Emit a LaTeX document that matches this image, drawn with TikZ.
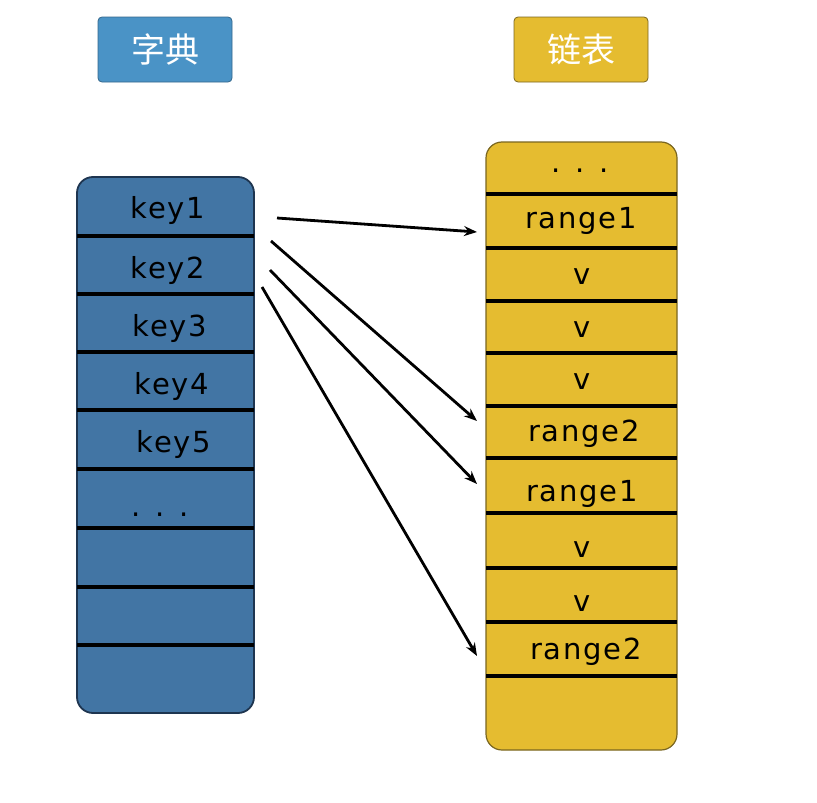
\documentclass[tikz,border=0pt]{standalone}
\usepackage{fontspec}
\setmainfont{DejaVu Sans}
\newfontfamily\cjk{Noto Sans CJK SC}
\usetikzlibrary{arrows.meta}
\definecolor{tblue}{HTML}{4A93C6}
\definecolor{cblue}{HTML}{4275A4}
\definecolor{ylw}{HTML}{E5BC30}
\definecolor{ybord}{HTML}{7A6620}
\definecolor{bbord}{HTML}{1E3550}
\tikzset{
  titlebox/.style={rounded corners=4pt, minimum width=134pt, minimum height=65pt, inner sep=0pt,
     text=white, font=\cjk\fontsize{34}{34}\selectfont, line width=0.8pt},
  celltxt/.style={inner sep=0pt, font=\fontsize{29}{29}\selectfont\addfontfeatures{LetterSpace=6}},
  divider/.style={line width=3.2pt, black},
  link/.style={line width=2.8pt, -{Stealth[length=13pt, width=10pt]}},
}
\begin{document}
\begin{tikzpicture}[x=1pt, y=-1pt]
\useasboundingbox (0,0) rectangle (817,803);
% titles
\node[titlebox, fill=tblue, draw=tblue!70!black] (tdict) at (165,49.5) {字典};
\node[titlebox, fill=ylw, draw=ybord] (tlist) at (581,49.5) {链表};
% left column
\draw[fill=cblue, draw=bbord, line width=1.8pt, rounded corners=16pt] (77,177) rectangle (254,713);
\foreach \y in {236,294,352,410,469,528,587,645} \draw[divider] (77,\y) -- (254,\y);
\node[celltxt] (k1) at (168,210) {key1};
\node[celltxt] (k2) at (168,270) {key2};
\node[celltxt] (k3) at (170,328) {key3};
\node[celltxt] (k4) at (172,386) {key4};
\node[celltxt] (k5) at (174,444) {key5};
\node[celltxt] (kd) at (160,515) {. . .};
% right column
\draw[fill=ylw, draw=ybord, line width=1.2pt, rounded corners=16pt] (486,142) rectangle (677,750);
\foreach \y in {194,248,301,353,406,458,513,568,622,676} \draw[divider] (486,\y) -- (677,\y);
\node[celltxt] (rd) at (580,171) {. . .};
\node[celltxt] (ra) at (581,221) {range1};
\node[celltxt] (v1) at (582,277) {v};
\node[celltxt] (v2) at (582,330) {v};
\node[celltxt] (v3) at (582,382) {v};
\node[celltxt] (rb) at (584,434) {range2};
\node[celltxt] (rc) at (582,494) {range1};
\node[celltxt] (v4) at (582,550) {v};
\node[celltxt] (v5) at (582,604) {v};
\node[celltxt] (rd2) at (586,652) {range2};
% arrows
\coordinate (s1) at (277,218);
\coordinate (s2) at (271,241);
\coordinate (s3) at (270,270);
\coordinate (s4) at (262,287);
\coordinate (e1) at (477,232);
\coordinate (e2) at (477,421);
\coordinate (e3) at (477,484);
\coordinate (e4) at (477,656);
\draw[link] (s1) -- (e1);
\draw[link] (s2) -- (e2);
\draw[link] (s3) -- (e3);
\draw[link] (s4) -- (e4);
\end{tikzpicture}
\end{document}
